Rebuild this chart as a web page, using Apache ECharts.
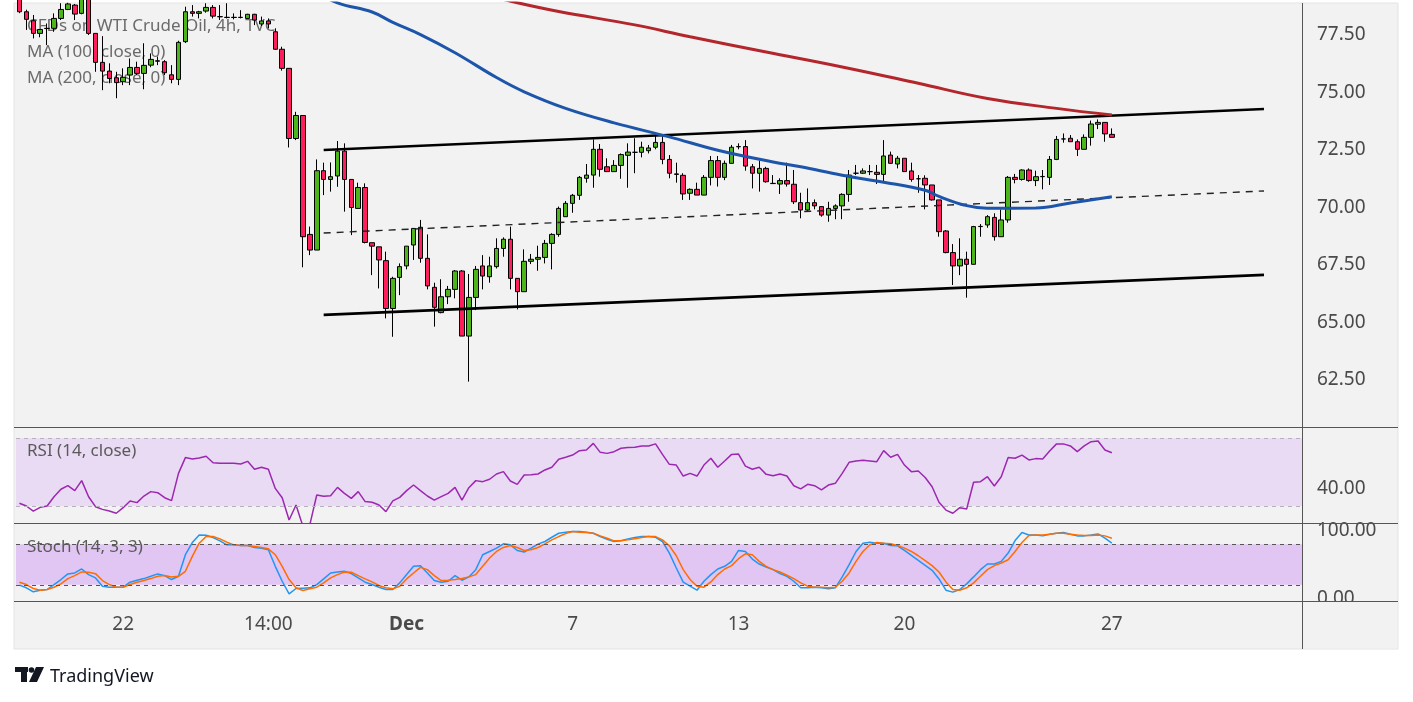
<!DOCTYPE html>
<html>
<head>
<meta charset="utf-8">
<script src="https://cdn.jsdelivr.net/npm/echarts@6.0.0/dist/echarts.min.js"></script>
<style>
  html, body { margin: 0; padding: 0; background: #fff; }
  #chart { width: 1413px; height: 702px; }
</style>
</head>
<body>
<div id="chart"></div>
<script>
// 4h candles, [open, close, low, high]
const candles = [
  [79.20, 78.51, 78.45, 79.40], [78.51, 78.18, 77.72, 78.60], [78.12, 77.57, 77.35, 78.37], [77.57, 77.74, 77.40, 77.76],
  [77.78, 77.79, 77.06, 78.00], [77.79, 78.22, 77.64, 78.44], [78.22, 78.61, 78.15, 78.88], [78.61, 78.85, 78.58, 78.90],
  [78.80, 78.41, 78.15, 78.85], [78.44, 79.10, 78.40, 79.30], [79.20, 77.57, 77.50, 79.40], [77.57, 76.31, 75.90, 77.57],
  [76.31, 75.93, 75.10, 77.45], [75.93, 75.61, 75.40, 76.27], [75.64, 75.43, 74.75, 75.90], [75.47, 75.66, 75.32, 76.05],
  [75.76, 76.09, 75.32, 76.48], [76.09, 75.83, 75.76, 76.34], [75.83, 76.18, 75.14, 77.14], [76.19, 76.44, 76.10, 76.70],
  [76.38, 76.36, 76.19, 76.56], [76.34, 75.86, 75.76, 76.41], [75.77, 75.57, 75.40, 76.19], [75.57, 77.18, 75.32, 77.25],
  [77.21, 78.51, 77.15, 78.73], [78.51, 78.44, 78.30, 78.80], [78.44, 78.51, 78.22, 78.55], [78.54, 78.70, 78.47, 78.88],
  [78.70, 78.32, 78.22, 78.80], [78.30, 78.29, 78.15, 78.80], [78.27, 78.26, 78.22, 78.88], [78.26, 78.27, 78.18, 78.44],
  [78.27, 78.26, 78.22, 78.58], [78.22, 78.40, 78.20, 78.42], [78.40, 78.15, 77.93, 78.42], [77.98, 78.11, 77.89, 78.30],
  [78.11, 77.98, 77.79, 78.22], [77.64, 76.88, 76.85, 77.79], [76.88, 76.05, 75.95, 76.99], [76.05, 73.00, 72.61, 76.05],
  [73.00, 74.00, 72.93, 74.16], [74.00, 68.73, 67.40, 74.00], [68.83, 68.15, 67.93, 69.17], [68.15, 71.60, 68.15, 72.09],
  [71.60, 71.22, 70.54, 71.95], [71.22, 71.34, 70.69, 71.96], [71.37, 72.45, 70.90, 72.89], [72.45, 71.22, 69.82, 72.79],
  [71.22, 70.00, 68.80, 71.22], [69.96, 70.87, 69.96, 71.08], [70.87, 68.48, 68.44, 71.05], [68.47, 68.32, 67.06, 68.47],
  [68.29, 67.72, 66.48, 68.29], [67.69, 65.61, 65.18, 68.08], [65.61, 66.92, 64.38, 66.99], [66.96, 67.43, 66.19, 67.57],
  [67.46, 68.32, 67.31, 68.32], [68.37, 69.09, 67.72, 69.09], [69.14, 67.79, 67.60, 69.46], [67.79, 66.59, 66.44, 68.83],
  [66.53, 65.66, 64.82, 66.73], [65.43, 66.12, 65.40, 66.88], [66.12, 66.44, 65.80, 66.59], [66.44, 67.24, 66.05, 67.28],
  [67.24, 64.41, 64.41, 67.28], [64.41, 66.09, 62.43, 67.11], [66.09, 67.31, 65.54, 67.46], [67.46, 67.02, 66.44, 67.93],
  [66.99, 67.46, 66.73, 67.86], [67.43, 68.22, 67.35, 68.66], [68.22, 68.62, 67.86, 68.70], [68.62, 66.92, 66.44, 69.17],
  [66.92, 66.34, 65.57, 66.92], [66.34, 67.66, 66.34, 68.18], [67.66, 67.75, 67.54, 67.98], [67.75, 67.83, 67.25, 68.34],
  [67.83, 68.44, 67.57, 68.59], [68.44, 68.83, 67.31, 68.88], [68.83, 69.96, 68.73, 70.04], [69.60, 70.18, 69.60, 70.28],
  [70.18, 70.53, 69.77, 70.59], [70.53, 71.31, 70.33, 71.37], [71.27, 71.41, 71.08, 71.89], [71.41, 72.53, 70.86, 72.96],
  [72.53, 71.66, 71.34, 72.76], [71.77, 71.56, 71.56, 72.14], [71.56, 71.83, 71.56, 72.06], [71.83, 72.30, 71.25, 72.35],
  [72.27, 72.41, 70.86, 72.79], [72.40, 72.40, 71.49, 73.01], [72.40, 72.62, 72.18, 72.86], [72.47, 72.59, 72.35, 72.72],
  [72.62, 72.83, 72.53, 73.25], [72.83, 72.09, 71.88, 73.15], [72.09, 71.49, 71.27, 72.28], [71.46, 71.44, 71.08, 71.95],
  [71.40, 70.59, 70.33, 71.49], [70.62, 70.79, 70.33, 70.83], [70.79, 70.54, 70.54, 71.08], [70.54, 71.31, 70.54, 71.41],
  [71.31, 72.04, 70.96, 72.24], [72.04, 71.31, 70.91, 72.24], [71.31, 71.92, 71.19, 72.04], [71.92, 72.62, 71.92, 72.72],
  [72.64, 72.65, 72.53, 72.79], [72.65, 71.80, 71.60, 72.93], [71.77, 71.49, 70.83, 71.89], [71.49, 71.70, 70.69, 72.04],
  [71.70, 71.12, 71.08, 71.77], [71.05, 71.04, 71.02, 71.41], [71.02, 71.17, 70.59, 71.27], [71.17, 71.02, 70.91, 71.95],
  [71.01, 70.25, 70.15, 71.63], [70.21, 69.89, 69.53, 70.64], [69.89, 70.21, 69.82, 70.83], [70.21, 70.07, 69.92, 70.35],
  [70.04, 69.67, 69.60, 70.04], [69.67, 69.96, 69.38, 70.25], [69.96, 70.07, 69.49, 70.14], [70.07, 70.57, 69.49, 70.62],
  [70.57, 71.41, 70.25, 71.63], [71.49, 71.49, 71.41, 71.85], [71.49, 71.59, 71.46, 71.70], [71.56, 71.56, 71.41, 71.85],
  [71.53, 71.44, 71.02, 71.85], [71.44, 72.24, 71.12, 72.93], [72.28, 71.92, 71.89, 72.43], [71.89, 72.14, 71.70, 72.24],
  [72.14, 71.56, 71.56, 72.14], [71.59, 71.22, 71.12, 71.95], [71.25, 71.25, 70.64, 71.41], [71.27, 70.98, 69.92, 71.40],
  [70.98, 70.33, 70.30, 70.98], [70.33, 68.95, 68.73, 70.33], [68.98, 68.04, 68.01, 69.02], [68.04, 67.46, 66.63, 68.41],
  [67.46, 67.75, 67.06, 68.66], [67.75, 67.53, 66.08, 68.08], [67.53, 69.17, 67.53, 69.20], [69.17, 69.18, 68.73, 69.28],
  [69.24, 69.60, 69.12, 69.67], [69.57, 68.73, 68.56, 69.75], [68.73, 69.46, 68.73, 69.92], [69.46, 71.31, 69.34, 71.37],
  [71.31, 71.22, 71.05, 71.46], [71.22, 71.63, 71.17, 71.66], [71.63, 71.17, 71.12, 71.70], [71.17, 71.34, 70.93, 71.60],
  [71.34, 71.35, 70.79, 71.63], [71.31, 72.09, 70.98, 72.24], [72.09, 72.96, 72.06, 73.11], [72.98, 72.98, 72.82, 73.22],
  [73.01, 72.86, 72.86, 73.15], [72.86, 72.53, 72.24, 72.96], [72.53, 73.05, 72.53, 73.18], [73.05, 73.63, 72.69, 73.78],
  [73.62, 73.70, 73.41, 73.83], [73.70, 73.20, 72.86, 73.70], [73.18, 73.05, 73.05, 73.44]
];

// moving averages, read at a few candles
const ma100Idx = [42, 46, 51, 54, 58, 63, 69, 73, 79, 86, 94, 101, 109, 113, 119, 125, 131, 133, 137, 140, 147, 152, 158];
const ma100Val = [79.5, 78.9, 78.5, 78.05, 77.52, 76.73, 75.65, 75.03, 74.31, 73.68, 73.07, 72.49, 71.98, 71.77, 71.40, 71.10, 70.75, 70.48, 70.08, 69.97, 69.98, 70.20, 70.47];
const ma200Idx = [68, 72, 78, 89, 97, 108, 119, 130, 140, 150, 158];
const ma200Val = [79.2, 78.9, 78.52, 77.94, 77.42, 76.76, 76.11, 75.40, 74.74, 74.31, 74.02];

// channel drawn on the chart: [start idx, start price, end idx, end price]
const channelTop = [44, 72.50, 180, 74.28];
const channelMid = [44, 68.89, 180, 70.72];
const channelLow = [44, 65.33, 180, 67.07];

const rsi = [
  31.6, 30.0, 27.0, 29.2, 30.0, 35.5, 39.9, 42.0, 39.1, 45.0, 35.5, 29.6, 28.0, 27.0, 25.7, 29.0, 33.0, 32.0, 35.9, 38.5,
  37.9, 34.9, 33.2, 49.3, 58.6, 57.8, 58.4, 59.4, 55.6, 55.2, 55.2, 55.2, 54.8, 56.4, 51.7, 52.9, 51.7, 40.4, 34.9, 21.7,
  30.6, 18.0, 19.0, 36.5, 35.7, 36.1, 41.0, 37.5, 34.5, 38.5, 32.6, 32.2, 30.6, 26.7, 33.0, 35.1, 39.1, 42.4, 39.1, 35.9,
  33.5, 35.5, 37.5, 41.0, 33.5, 40.8, 45.0, 44.4, 45.8, 48.9, 50.3, 44.8, 42.8, 48.3, 48.5, 48.9, 51.3, 52.9, 57.6, 58.8,
  60.1, 62.7, 63.1, 67.0, 61.7, 61.1, 62.1, 64.1, 64.5, 64.7, 65.5, 65.5, 66.7, 60.5, 54.6, 54.2, 47.7, 49.3, 47.7, 54.2,
  58.2, 52.9, 56.6, 60.5, 60.7, 53.6, 51.7, 52.9, 48.7, 47.9, 48.9, 47.7, 42.0, 40.1, 42.8, 42.0, 39.5, 42.4, 43.4, 49.3,
  55.8, 56.6, 57.0, 56.6, 56.2, 62.7, 58.8, 60.5, 54.2, 50.3, 50.7, 46.8, 41.4, 32.2, 27.6, 25.7, 29.0, 28.2, 44.0, 44.4,
  47.3, 41.8, 47.3, 58.6, 58.2, 60.1, 57.2, 58.0, 57.8, 62.5, 66.7, 66.7, 65.5, 62.1, 65.5, 68.0, 68.4, 63.1, 61.5
];
const rsiBands = [30, 70];

const stochK = [
  19.5, 15.6, 9.7, 12.1, 13.1, 20.4, 27.8, 36.1, 37.5, 43.4, 35.1, 30.2, 18.0, 16.5, 16.5, 16.5, 23.9, 26.8, 29.2, 32.6,
  36.1, 33.6, 27.8, 32.6, 64.4, 82.4, 93.6, 93.2, 89.7, 84.9, 79.0, 79.0, 78.0, 78.0, 75.1, 74.1, 71.7, 47.3, 25.3, 6.8,
  14.6, 15.1, 15.6, 20.4, 28.7, 37.5, 39.0, 40.0, 36.5, 30.2, 23.9, 20.4, 16.5, 13.1, 13.1, 22.9, 35.1, 47.3, 48.3, 37.5,
  26.3, 23.9, 25.3, 33.6, 26.8, 31.7, 42.4, 64.4, 69.2, 74.1, 80.5, 79.0, 70.7, 68.3, 74.1, 80.0, 83.9, 90.2, 96.1, 97.5,
  98.5, 98.5, 97.5, 96.1, 91.2, 87.3, 83.9, 84.9, 87.8, 89.7, 91.2, 91.2, 90.2, 83.9, 66.8, 44.8, 23.9, 18.0, 12.1, 25.3,
  35.1, 43.4, 47.3, 54.6, 70.7, 69.2, 58.0, 50.7, 46.3, 42.4, 36.5, 32.6, 25.3, 15.6, 15.6, 16.5, 15.6, 14.1, 15.6, 31.7,
  49.7, 69.2, 81.4, 82.9, 81.4, 81.4, 78.0, 77.5, 70.7, 63.4, 56.1, 48.7, 41.4, 28.7, 12.1, 9.2, 13.1, 21.4, 31.7, 42.4,
  50.7, 50.7, 54.6, 66.8, 85.3, 97.1, 93.6, 93.6, 92.2, 94.6, 96.1, 97.1, 94.6, 92.2, 92.2, 93.6, 95.1, 88.8, 81.4
];
const stochD = [
  23.9, 20.4, 14.6, 12.1, 13.1, 16.5, 21.4, 29.2, 33.6, 39.0, 38.5, 36.5, 26.3, 20.4, 16.5, 16.5, 20.4, 23.9, 26.3, 29.2,
  32.6, 33.6, 31.7, 32.6, 40.0, 61.9, 81.4, 91.2, 91.2, 87.8, 82.9, 79.0, 78.0, 78.0, 76.6, 75.1, 73.1, 64.4, 47.3, 27.8,
  15.6, 11.7, 14.1, 16.5, 22.9, 30.2, 35.1, 39.0, 38.5, 33.6, 28.7, 24.3, 19.0, 15.6, 14.1, 18.0, 28.7, 37.5, 45.8, 42.4,
  33.6, 26.3, 26.8, 27.8, 29.2, 31.7, 35.1, 47.3, 59.5, 69.2, 75.1, 78.0, 75.1, 70.7, 71.7, 75.1, 80.5, 86.3, 91.2, 95.5,
  98.5, 97.5, 97.1, 96.1, 92.2, 88.8, 84.9, 84.9, 86.3, 87.8, 89.7, 91.2, 91.2, 86.3, 77.5, 62.9, 42.4, 27.8, 18.0, 16.5,
  24.3, 35.1, 43.4, 48.3, 58.5, 65.8, 64.4, 54.6, 47.3, 42.4, 39.0, 34.1, 29.2, 22.9, 18.0, 16.5, 16.5, 15.6, 16.5, 25.3,
  37.5, 54.6, 69.2, 79.0, 82.4, 81.4, 80.5, 78.0, 74.1, 69.2, 62.9, 55.6, 48.3, 39.0, 24.3, 13.1, 12.1, 15.6, 22.9, 32.6,
  42.4, 48.3, 52.2, 57.0, 69.2, 82.4, 92.7, 93.6, 93.6, 94.6, 96.1, 96.1, 94.6, 93.6, 92.7, 92.7, 93.6, 92.2, 88.8
];
const stochBands = [20, 80];

// time axis: 186 slots, labels at a few of them
const slotCount = 186;
const tickSlots = [15, 36, 56, 80, 104, 128, 158];
const tickLabels = ['22', '14:00', 'Dec', '7', '13', '20', '27'];
const priceTicks = [62.5, 65, 67.5, 70, 72.5, 75, 77.5];

const slots = [];
for (let i = 0; i < slotCount; i++) slots.push(String(i));
const labelAt = {};
tickSlots.forEach((s, k) => { labelAt[s] = tickLabels[k]; });

const FONT = '"Noto Sans", sans-serif';
const BG = '#F2F2F2';
const LINE = '#555555';
const AXIS_TEXT = '#4a4a4a';

const bandArea = (lo, hi, color) => ({
  silent: true,
  itemStyle: { color: color },
  data: [[{ yAxis: lo }, { yAxis: hi }]]
});
const bandLines = (vals, color) => ({
  silent: true,
  symbol: 'none',
  label: { show: false },
  lineStyle: { color: color, type: [4, 4], width: 1 },
  data: vals.map(v => ({ yAxis: v }))
});
const segment = (c, style) => ({
  type: 'line',
  xAxisIndex: 0,
  yAxisIndex: 0,
  symbol: 'none',
  silent: true,
  z: 4,
  lineStyle: style,
  data: [[c[0], c[1]], [c[2], c[3]]]
});
const priceAxis = (grid, min, max, values) => ({
  gridIndex: grid, position: 'right', min: min, max: max,
  axisLine: { show: false }, axisTick: { show: false }, splitLine: { show: false },
  axisLabel: { customValues: values, formatter: v => v.toFixed(2), margin: 15, color: AXIS_TEXT, fontSize: 19, fontFamily: FONT }
});
const caption = (text, y, color) => ({
  type: 'text', z: 10, silent: true,
  style: { text: text, x: 27, y: y, fill: color, font: '17px ' + FONT, verticalAlign: 'middle' }
});

const chart = echarts.init(document.getElementById('chart'), null, { renderer: 'canvas' });

chart.setOption({
  backgroundColor: '#ffffff',
  animation: false,
  grid: [
    { left: 16, right: 111, top: 3, height: 424 },
    { left: 16, right: 111, top: 427, height: 96 },
    { left: 16, right: 111, top: 523, height: 78 }
  ],
  xAxis: [0, 1, 2].map(g => ({
    type: 'category',
    gridIndex: g,
    data: slots,
    boundaryGap: true,
    axisLine: { show: false },
    axisTick: { show: false },
    splitLine: { show: false },
    axisLabel: g < 2 ? { show: false } : {
      interval: 0,
      margin: 14,
      color: AXIS_TEXT,
      fontSize: 19,
      fontFamily: FONT,
      formatter: (v, idx) => {
        const t = labelAt[idx];
        if (!t) return '';
        return t === 'Dec' ? '{b|Dec}' : t;
      },
      rich: { b: { fontWeight: 'bold', fontSize: 19, fontFamily: FONT, color: AXIS_TEXT } }
    }
  })),
  yAxis: [
    priceAxis(0, 60.457, 78.891, priceTicks),
    priceAxis(1, 19.96, 76.68, [40]),
    priceAxis(2, -3.85, 111.2, [0, 100])
  ],
  series: [
    {
      type: 'candlestick',
      xAxisIndex: 0, yAxisIndex: 0,
      barWidth: 5,
      z: 3,
      itemStyle: {
        color: '#4DB51C', color0: '#FF1E5C',
        borderColor: '#000000', borderColor0: '#000000', borderColorDoji: '#000000',
        borderWidth: 1
      },
      data: candles
    },
    {
      name: 'MA 100', type: 'line', xAxisIndex: 0, yAxisIndex: 0,
      symbol: 'none', smooth: 0.4, z: 5,
      lineStyle: { color: '#1D55AB', width: 3 },
      data: ma100Idx.map((x, k) => [x, ma100Val[k]])
    },
    {
      name: 'MA 200', type: 'line', xAxisIndex: 0, yAxisIndex: 0,
      symbol: 'none', smooth: 0.4, z: 5,
      lineStyle: { color: '#B3262C', width: 3 },
      data: ma200Idx.map((x, k) => [x, ma200Val[k]])
    },
    segment(channelTop, { color: '#000000', width: 2.6 }),
    segment(channelLow, { color: '#000000', width: 2.6 }),
    segment(channelMid, { color: '#222222', width: 1.4, type: [7, 6] }),
    {
      name: 'RSI', type: 'line', xAxisIndex: 1, yAxisIndex: 1,
      symbol: 'none', z: 4,
      lineStyle: { color: '#9C27B0', width: 1.5 },
      data: rsi,
      markArea: bandArea(rsiBands[0], rsiBands[1], '#E9DBF3'),
      markLine: bandLines(rsiBands, '#B9AFC0')
    },
    {
      name: '%K', type: 'line', xAxisIndex: 2, yAxisIndex: 2,
      symbol: 'none', z: 4,
      lineStyle: { color: '#2196F3', width: 1.5 },
      data: stochK,
      markArea: bandArea(stochBands[0], stochBands[1], '#E1C5F3'),
      markLine: bandLines(stochBands, '#555555')
    },
    {
      name: '%D', type: 'line', xAxisIndex: 2, yAxisIndex: 2,
      symbol: 'none', z: 4,
      lineStyle: { color: '#FF6D00', width: 1.5 },
      data: stochD
    }
  ],
  graphic: [
    { type: 'rect', z: -10, silent: true, shape: { x: 14, y: 3, width: 1384, height: 646 }, style: { fill: BG, stroke: '#E3E3E3', lineWidth: 1 } },
    Object.assign(caption('CFDs on WTI Crude Oil, 4h, TVC', 26, '#6b6b6b'), { z: 1 }),
    Object.assign(caption('MA (100, close, 0)', 52, '#6b6b6b'), { z: 1 }),
    Object.assign(caption('MA (200, close, 0)', 78, '#6b6b6b'), { z: 1 }),
    caption('RSI (14, close)', 451, '#5a5a5a'),
    caption('Stoch (14, 3, 3)', 547, '#5a5a5a'),
    // hide what spills below the stoch pane on the price scale
    { type: 'rect', z: 100, silent: true, shape: { x: 1303, y: 602, width: 94.5, height: 46.5 }, style: { fill: BG } },
    // pane separators
    { type: 'line', z: 101, silent: true, shape: { x1: 14, y1: 427.5, x2: 1398, y2: 427.5 }, style: { stroke: LINE, lineWidth: 1 } },
    { type: 'line', z: 101, silent: true, shape: { x1: 14, y1: 523.5, x2: 1398, y2: 523.5 }, style: { stroke: LINE, lineWidth: 1 } },
    { type: 'line', z: 101, silent: true, shape: { x1: 14, y1: 601.5, x2: 1398, y2: 601.5 }, style: { stroke: LINE, lineWidth: 1 } },
    { type: 'line', z: 101, silent: true, shape: { x1: 1302.5, y1: 3, x2: 1302.5, y2: 649 }, style: { stroke: LINE, lineWidth: 1 } },
    // TradingView mark
    { type: 'rect', silent: true, shape: { x: 15, y: 667, width: 13, height: 5 }, style: { fill: '#131722' } },
    { type: 'rect', silent: true, shape: { x: 21, y: 667, width: 6, height: 15 }, style: { fill: '#131722' } },
    { type: 'circle', silent: true, shape: { cx: 31.5, cy: 670, r: 2.8 }, style: { fill: '#131722' } },
    { type: 'polygon', silent: true, shape: { points: [[36, 667], [44, 667], [37, 682], [29, 682]] }, style: { fill: '#131722' } },
    { type: 'text', silent: true, style: { text: 'TradingView', x: 50, y: 677, fill: '#131722', font: '18px ' + FONT, verticalAlign: 'middle' } }
  ]
});
</script>
</body>
</html>
